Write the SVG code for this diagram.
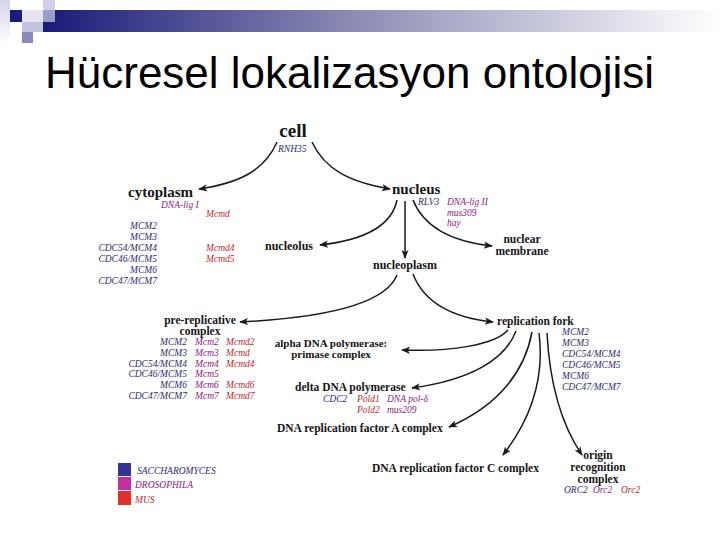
<svg xmlns="http://www.w3.org/2000/svg" width="720" height="540" viewBox="0 0 720 540">
<defs>
<linearGradient id="bar" x1="0" y1="0" x2="1" y2="0">
<stop offset="0" stop-color="#1a1a78"/>
<stop offset="0.45" stop-color="#8a8ab4"/>
<stop offset="1" stop-color="#ffffff"/>
</linearGradient>
<linearGradient id="side" x1="0" y1="0" x2="0" y2="1">
<stop offset="0" stop-color="#d4d4ec"/>
<stop offset="1" stop-color="#ffffff"/>
</linearGradient>
<marker id="ah" viewBox="0 0 10 10" refX="9" refY="5" markerWidth="9" markerHeight="9" orient="auto" markerUnits="userSpaceOnUse">
<path d="M0,1 L10,5 L0,9 L2.5,5 z" fill="#1a1a1a"/>
</marker>
<style>
.n{font-family:"Liberation Serif","Times New Roman",serif;font-weight:bold;fill:#151515}
.g{font-family:"Liberation Serif","Times New Roman",serif;font-style:italic;font-size:9.5px}
.sc{fill:#2e2e72}
.dr{fill:#8e2080}
.mu{fill:#c0282e}
.c{fill:none;stroke:#1a1a1a;stroke-width:1.5;marker-end:url(#ah)}
</style>
</defs>
<rect width="720" height="540" fill="#ffffff"/>
<g id="header">
<rect x="0" y="0" width="10" height="43" fill="url(#side)"/>
<rect x="43" y="10" width="677" height="22" fill="url(#bar)"/>
<rect x="10" y="10" width="12" height="12" fill="#1c1c7a"/>
<rect x="22" y="10" width="21" height="12" fill="#e4e4f2"/>
<rect x="43" y="0" width="12" height="10" fill="#d0d0ea"/>
<rect x="43" y="10" width="12" height="12" fill="#9c9cce"/>
<rect x="22" y="22" width="21" height="10" fill="#c4c4e2"/>
<rect x="22" y="32" width="11" height="11" fill="#8888c0"/>
</g>
<text id="title" x="45" y="88" font-family="Liberation Sans, Arial, sans-serif" font-size="44" fill="#000">Hücresel lokalizasyon ontolojisi</text>
<g id="connectors">
<path class="c" d="M277 142 C265 170 240 183 199 189"/>
<path class="c" d="M312 142 C325 170 350 182 390 189"/>
<path class="c" d="M397 200 C392 225 365 240 320 245"/>
<path class="c" d="M405 201 L405 258"/>
<path class="c" d="M413 200 C425 230 455 242 492 246"/>
<path class="c" d="M397 275 C385 305 320 318 240 322"/>
<path class="c" d="M413 274 C425 305 455 318 493 322"/>
<path class="c" d="M508 330 C495 345 450 352 402 350"/>
<path class="c" d="M516 331 C505 360 470 380 412 388"/>
<path class="c" d="M532 332 C525 370 500 405 449 427"/>
<path class="c" d="M539 333 C545 380 530 420 503 455"/>
<path class="c" d="M547 333 C550 390 565 430 582 455"/>
</g>
<g id="cell">
<text class="n" x="293" y="137" font-size="19" text-anchor="middle">cell</text>
<text class="g sc" x="278" y="152">RNH35</text>
</g>
<g id="cytoplasm">
<text class="n" x="128" y="197" font-size="15">cytoplasm</text>
<text class="g dr" x="161" y="208">DNA-lig I</text>
<text class="g mu" x="206" y="217">Mcmd</text>
<g class="g sc" text-anchor="end">
<text x="157" y="229">MCM2</text>
<text x="157" y="240">MCM3</text>
<text x="157" y="251">CDC54/MCM4</text>
<text x="157" y="262">CDC46/MCM5</text>
<text x="157" y="273">MCM6</text>
<text x="157" y="284">CDC47/MCM7</text>
</g>
<text class="g mu" x="206" y="251">Mcmd4</text>
<text class="g mu" x="206" y="262">Mcmd5</text>
</g>
<g id="nucleus">
<text class="n" x="392" y="194" font-size="15">nucleus</text>
<text class="g sc" x="418" y="205">RLV3</text>
<text class="g dr" x="447" y="205">DNA-lig II</text>
<text class="g dr" x="447" y="216">mus309</text>
<text class="g dr" x="447" y="226">hay</text>
</g>
<g id="nucleolus">
<text class="n" x="265" y="250" font-size="12">nucleolus</text>
</g>
<g id="nuclear-membrane">
<text class="n" x="522" y="243" font-size="11.5" text-anchor="middle">nuclear</text>
<text class="n" x="522" y="255" font-size="11.5" text-anchor="middle">membrane</text>
</g>
<g id="nucleoplasm">
<text class="n" x="373" y="269" font-size="12">nucleoplasm</text>
</g>
<g id="pre-replicative-complex">
<text class="n" x="200" y="324" font-size="11.5" text-anchor="middle">pre-replicative</text>
<text class="n" x="200" y="335" font-size="11.5" text-anchor="middle">complex</text>
<g class="g sc" text-anchor="end">
<text x="187" y="345">MCM2</text>
<text x="187" y="356">MCM3</text>
<text x="187" y="367">CDC54/MCM4</text>
<text x="187" y="377">CDC46/MCM5</text>
<text x="187" y="388">MCM6</text>
<text x="187" y="399">CDC47/MCM7</text>
</g>
<g class="g dr">
<text x="195" y="345">Mcm2</text>
<text x="195" y="356">Mcm3</text>
<text x="195" y="367">Mcm4</text>
<text x="195" y="377">Mcm5</text>
<text x="195" y="388">Mcm6</text>
<text x="195" y="399">Mcm7</text>
</g>
<g class="g mu">
<text x="226" y="345">Mcmd2</text>
<text x="226" y="356">Mcmd</text>
<text x="226" y="367">Mcmd4</text>
<text x="226" y="388">Mcmd6</text>
<text x="226" y="399">Mcmd7</text>
</g>
</g>
<g id="replication-fork">
<text class="n" x="497" y="325" font-size="11.5">replication fork</text>
<g class="g sc">
<text x="562" y="335">MCM2</text>
<text x="562" y="346">MCM3</text>
<text x="562" y="357">CDC54/MCM4</text>
<text x="562" y="368">CDC46/MCM5</text>
<text x="562" y="379">MCM6</text>
<text x="562" y="390">CDC47/MCM7</text>
</g>
</g>
<g id="alpha-dna-polymerase">
<text class="n" x="331" y="347" font-size="11" text-anchor="middle">alpha DNA polymerase:</text>
<text class="n" x="331" y="358" font-size="11" text-anchor="middle">primase complex</text>
</g>
<g id="delta-dna-polymerase">
<text class="n" x="295" y="391" font-size="11.5">delta DNA polymerase</text>
<text class="g sc" x="323" y="402">CDC2</text>
<text class="g mu" x="357" y="402">Pold1</text>
<text class="g dr" x="387" y="402">DNA pol-δ</text>
<text class="g mu" x="357" y="413">Pold2</text>
<text class="g dr" x="387" y="413">mus209</text>
</g>
<g id="rfa-complex">
<text class="n" x="277" y="432" font-size="11.5">DNA replication factor A complex</text>
</g>
<g id="rfc-complex">
<text class="n" x="372" y="472" font-size="11.5">DNA replication factor C complex</text>
</g>
<g id="origin-recognition-complex">
<text class="n" x="598" y="459" font-size="11.5" text-anchor="middle">origin</text>
<text class="n" x="598" y="471" font-size="11.5" text-anchor="middle">recognition</text>
<text class="n" x="598" y="483" font-size="11.5" text-anchor="middle">complex</text>
<text class="g sc" x="564" y="493">ORC2</text>
<text class="g dr" x="593" y="493">Orc2</text>
<text class="g mu" x="621" y="493">Orc2</text>
</g>
<g id="legend">
<rect x="118" y="463" width="13" height="13" fill="#343494"/>
<rect x="118" y="477" width="13" height="13" fill="#c0309e"/>
<rect x="118" y="491" width="13" height="14" fill="#e0302e"/>
<text class="g sc" x="137" y="473.5">SACCHAROMYCES</text>
<text class="g dr" x="135" y="488">DROSOPHILA</text>
<text class="g mu" x="135" y="503">MUS</text>
</g>
</svg>
